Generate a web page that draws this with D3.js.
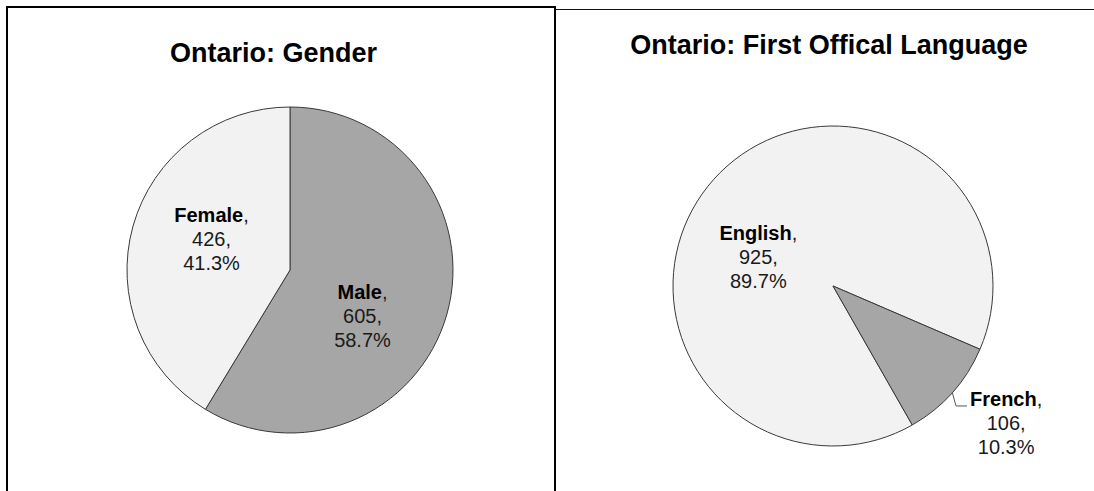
<!DOCTYPE html>
<html>
<head>
<meta charset="utf-8">
<script src="https://cdn.jsdelivr.net/npm/d3@7"></script>
<style>
  html, body { margin: 0; padding: 0; background: #fff; }
  svg { display: block; font-family: "Liberation Sans", Arial, sans-serif; }
</style>
</head>
<body>
<div id="chart"></div>
<script>
// Ontario survey pies: gender and first official language

const genderCats = ["Male", "Female"];
const genderCounts = [605, 426];

const langCats = ["English", "French"];
const langCounts = [925, 106];

const W = 1094, H = 491;
const pct = d3.format(".1%");

const svg = d3.select("#chart").append("svg")
  .attr("width", W)
  .attr("height", H);

// panel frames
svg.append("rect")
  .attr("x", 7).attr("y", 7)
  .attr("width", 548).attr("height", H + 10)
  .attr("fill", "none")
  .attr("stroke", "#000")
  .attr("stroke-width", 2);

svg.append("line")
  .attr("x1", 556).attr("x2", W)
  .attr("y1", 9.5).attr("y2", 9.5)
  .attr("stroke", "#111")
  .attr("stroke-width", 1);

function drawPie(opts) {
  const rows = opts.cats.map((c, i) => ({ cat: c, count: opts.counts[i] }));
  const total = d3.sum(rows, d => d.count);

  const pie = d3.pie()
    .sort(null)
    .value(d => d.count)
    .startAngle(opts.rotate * Math.PI / 180)
    .endAngle(opts.rotate * Math.PI / 180 + 2 * Math.PI);

  const arcs = pie(rows);
  const arc = d3.arc().innerRadius(0).outerRadius(opts.r);

  const g = svg.append("g").attr("transform", `translate(${opts.cx},${opts.cy})`);

  g.selectAll("path.slice")
    .data(arcs)
    .join("path")
    .attr("class", "slice")
    .attr("d", arc)
    .attr("fill", (d, i) => opts.fills[i])
    .attr("stroke", "#3a3a3a")
    .attr("stroke-width", 1)
    .attr("stroke-linejoin", "round");

  svg.append("text")
    .attr("x", opts.titleX)
    .attr("y", opts.titleY)
    .attr("text-anchor", "middle")
    .attr("font-size", 27)
    .attr("font-weight", "bold")
    .attr("fill", "#000")
    .text(opts.title);

  arcs.forEach((d, i) => {
    const k = opts.labelR[i];
    const la = d3.arc().innerRadius(opts.r * k).outerRadius(opts.r * k);
    const c = la.centroid(d);
    const nx = c[0] + opts.nudge[i][0];
    const ny = c[1] + opts.nudge[i][1];

    const t = g.append("text")
      .attr("text-anchor", "middle")
      .attr("font-size", 20)
      .attr("fill", "#1a1a1a");

    const l1 = t.append("tspan").attr("x", nx).attr("y", ny + 7 - 24);
    l1.append("tspan").attr("font-weight", "bold").attr("fill", "#000").text(d.data.cat);
    l1.append("tspan").text(",");
    t.append("tspan").attr("x", nx).attr("y", ny + 7).text(d.data.count + ",");
    t.append("tspan").attr("x", nx).attr("y", ny + 7 + 24).text(pct(d.data.count / total));

    if (opts.leader[i]) {
      const edge = d3.arc().innerRadius(opts.r).outerRadius(opts.r).centroid(d);
      const w1 = l1.node().getComputedTextLength();
      const left = nx - w1 / 2;
      const by = ny + 7 - 24;
      g.append("path")
        .attr("d", d3.line()([edge, [left - 14, by], [left - 3, by]]))
        .attr("fill", "none")
        .attr("stroke", "#555")
        .attr("stroke-width", 1);
    }
  });
}

drawPie({
  title: "Ontario: Gender",
  titleX: 273.5, titleY: 62,
  cats: genderCats, counts: genderCounts,
  cx: 290, cy: 270, r: 163, rotate: 0,
  fills: ["#a6a6a6", "#f2f2f2"],
  labelR: [0.5, 0.5],
  nudge: [[-6, 24], [0, -9]],
  leader: [false, false]
});

drawPie({
  title: "Ontario: First Offical Language",
  titleX: 829, titleY: 54,
  cats: langCats, counts: langCounts,
  cx: 833, cy: 286, r: 160, rotate: 150.3,
  fills: ["#f2f2f2", "#a6a6a6"],
  labelR: [0.5, 1.2],
  nudge: [[-15, 24], [30, 9]],
  leader: [false, true]
});
</script>
</body>
</html>
